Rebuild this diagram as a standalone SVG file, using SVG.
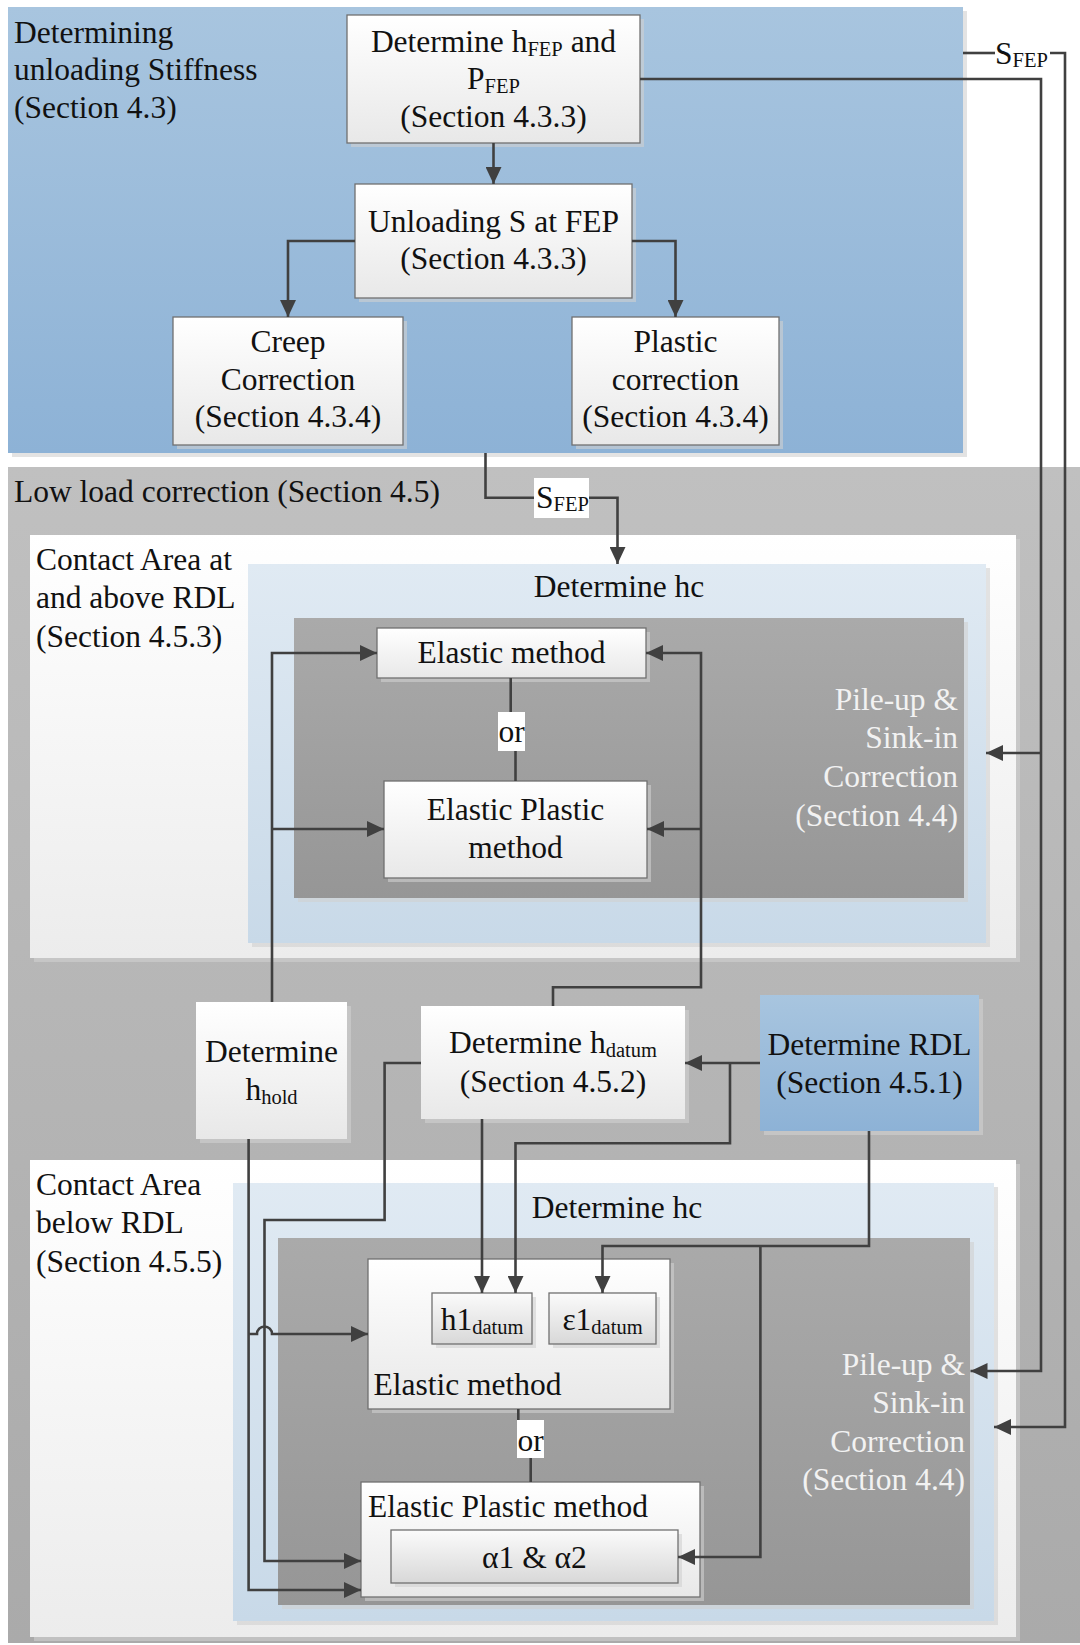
<svg xmlns="http://www.w3.org/2000/svg" width="1080" height="1645" viewBox="0 0 1080 1645">
<style>
.t{font-family:"Liberation Serif","Times New Roman",serif;font-size:31.5px;fill:#111111}
.c{text-anchor:middle}
.r{text-anchor:end}
.w{fill:#f2f2f2}
.sub{font-size:20.5px}
.sh{fill:#d0d0d0;opacity:0.6}
.bx{stroke:#707070;stroke-width:1.3}
.cn path{fill:none;stroke:#404040;stroke-width:2.6}
.ar{marker-end:url(#ah)}
</style>
<defs>
<linearGradient id="gBlue" x1="0" y1="0" x2="0" y2="1"><stop offset="0" stop-color="#a8c5df"/><stop offset="1" stop-color="#8db2d6"/></linearGradient>
<linearGradient id="gGray" x1="0" y1="0" x2="0" y2="1"><stop offset="0" stop-color="#c0c0c0"/><stop offset="1" stop-color="#aaaaaa"/></linearGradient>
<linearGradient id="gWhite" x1="0" y1="0" x2="0" y2="1"><stop offset="0" stop-color="#ffffff"/><stop offset="1" stop-color="#ececec"/></linearGradient>
<linearGradient id="gLB" x1="0" y1="0" x2="0" y2="1"><stop offset="0" stop-color="#e0eaf3"/><stop offset="1" stop-color="#c8d9e8"/></linearGradient>
<linearGradient id="gDark" x1="0" y1="0" x2="0" y2="1"><stop offset="0" stop-color="#aaaaaa"/><stop offset="1" stop-color="#969696"/></linearGradient>
<linearGradient id="gBox" x1="0" y1="0" x2="0" y2="1"><stop offset="0" stop-color="#ffffff"/><stop offset="1" stop-color="#e8e8e8"/></linearGradient>
<linearGradient id="gSmall" x1="0" y1="0" x2="0" y2="1"><stop offset="0" stop-color="#fbfbfb"/><stop offset="1" stop-color="#d8d8d8"/></linearGradient>
<marker id="ah" markerUnits="userSpaceOnUse" markerWidth="17" markerHeight="16" viewBox="0 0 17 16" refX="17" refY="8" orient="auto"><path d="M0,0 L17,8 L0,16 Z" fill="#404040"/></marker>
</defs>

<g id="panel-stiffness">
<rect class="sh" x="12" y="11" width="955" height="446"/>
<rect x="8" y="7" width="955" height="446" fill="url(#gBlue)"/>
<text class="t" x="14"><tspan x="14" y="43">Determining</tspan><tspan x="14" y="80">unloading Stiffness</tspan><tspan x="14" y="118">(Section 4.3)</tspan></text>
</g>

<g id="panel-lowload">
<rect x="8" y="467" width="1072" height="1176" fill="url(#gGray)"/>
<text class="t" x="14" y="502">Low load correction (Section 4.5)</text>
</g>

<g id="panel-above-rdl">
<rect class="sh" x="34" y="539" width="986" height="423"/>
<rect x="30" y="535" width="986" height="423" fill="url(#gWhite)"/>
<text class="t"><tspan x="36" y="570">Contact Area at</tspan><tspan x="36" y="608">and above RDL</tspan><tspan x="36" y="647">(Section 4.5.3)</tspan></text>
</g>

<g id="panel-hc-upper">
<rect class="sh" x="252" y="568" width="738" height="379"/>
<rect x="248" y="564" width="738" height="379" fill="url(#gLB)"/>
<text class="t c" x="619" y="597">Determine hc</text>
</g>

<g id="panel-pileup-upper">
<rect class="sh" x="298" y="622" width="670" height="280"/>
<rect x="294" y="618" width="670" height="280" fill="url(#gDark)"/>
<text class="t r w"><tspan x="958" y="710">Pile-up &amp;</tspan><tspan x="958" y="748">Sink-in</tspan><tspan x="958" y="787">Correction</tspan><tspan x="958" y="826">(Section 4.4)</tspan></text>
</g>

<g id="panel-below-rdl">
<rect class="sh" x="34" y="1164" width="986" height="477"/>
<rect x="30" y="1160" width="986" height="477" fill="url(#gWhite)"/>
<text class="t"><tspan x="36" y="1195">Contact Area</tspan><tspan x="36" y="1233">below RDL</tspan><tspan x="36" y="1272">(Section 4.5.5)</tspan></text>
</g>

<g id="panel-hc-lower">
<rect class="sh" x="237" y="1187" width="761" height="438"/>
<rect x="233" y="1183" width="761" height="438" fill="url(#gLB)"/>
<text class="t c" x="617" y="1218">Determine hc</text>
</g>

<g id="panel-pileup-lower">
<rect class="sh" x="282" y="1242" width="692" height="367"/>
<rect x="278" y="1238" width="692" height="367" fill="url(#gDark)"/>
<text class="t r w"><tspan x="965" y="1375">Pile-up &amp;</tspan><tspan x="965" y="1413">Sink-in</tspan><tspan x="965" y="1452">Correction</tspan><tspan x="965" y="1490">(Section 4.4)</tspan></text>
</g>

<g id="node-hfep">
<rect class="sh" x="351" y="19" width="293" height="128"/>
<rect class="bx" x="347" y="15" width="293" height="128" fill="url(#gBox)"/>
<text class="t c" x="493.5" y="52">Determine h<tspan class="sub" dy="4">FEP</tspan><tspan dy="-4"> and</tspan></text>
<text class="t c" x="493.5" y="89">P<tspan class="sub" dy="4">FEP</tspan></text>
<text class="t c" x="493.5" y="127">(Section 4.3.3)</text>
</g>

<g id="node-unloading">
<rect class="sh" x="359" y="188" width="277" height="114"/>
<rect class="bx" x="355" y="184" width="277" height="114" fill="url(#gBox)"/>
<text class="t c" x="493.5" y="232">Unloading S at FEP</text>
<text class="t c" x="493.5" y="269">(Section 4.3.3)</text>
</g>

<g id="node-creep">
<rect class="sh" x="177" y="321" width="230" height="128"/>
<rect class="bx" x="173" y="317" width="230" height="128" fill="url(#gBox)"/>
<text class="t c" x="288" y="352">Creep</text>
<text class="t c" x="288" y="390">Correction</text>
<text class="t c" x="288" y="427">(Section 4.3.4)</text>
</g>

<g id="node-plastic">
<rect class="sh" x="576" y="321" width="207" height="128"/>
<rect class="bx" x="572" y="317" width="207" height="128" fill="url(#gBox)"/>
<text class="t c" x="675.5" y="352">Plastic</text>
<text class="t c" x="675.5" y="390">correction</text>
<text class="t c" x="675.5" y="427">(Section 4.3.4)</text>
</g>

<g id="node-elastic-upper">
<rect class="sh" x="381" y="632" width="269" height="50"/>
<rect class="bx" x="377" y="628" width="269" height="50" fill="url(#gBox)"/>
<text class="t c" x="511.5" y="663">Elastic method</text>
</g>

<g id="node-ep-upper">
<rect class="sh" x="388" y="785" width="263" height="97"/>
<rect class="bx" x="384" y="781" width="263" height="97" fill="url(#gBox)"/>
<text class="t c" x="515.5" y="820">Elastic Plastic</text>
<text class="t c" x="515.5" y="858">method</text>
</g>

<g id="node-hhold">
<rect class="sh" x="200" y="1006" width="151" height="137"/>
<rect x="196" y="1002" width="151" height="137" fill="url(#gBox)"/>
<text class="t c" x="271.5" y="1062">Determine</text>
<text class="t c" x="271.5" y="1100">h<tspan class="sub" dy="4">hold</tspan></text>
</g>

<g id="node-hdatum">
<rect class="sh" x="425" y="1010" width="264" height="113"/>
<rect x="421" y="1006" width="264" height="113" fill="url(#gBox)"/>
<text class="t c" x="553" y="1053">Determine h<tspan class="sub" dy="4">datum</tspan></text>
<text class="t c" x="553" y="1092">(Section 4.5.2)</text>
</g>

<g id="node-rdl">
<rect class="sh" x="764" y="999" width="219" height="136"/>
<rect x="760" y="995" width="219" height="136" fill="url(#gBlue)"/>
<text class="t c" x="869.5" y="1055">Determine RDL</text>
<text class="t c" x="869.5" y="1093">(Section 4.5.1)</text>
</g>

<g id="node-elastic-lower">
<rect class="sh" x="372" y="1263" width="302" height="150"/>
<rect class="bx" x="368" y="1259" width="302" height="150" fill="url(#gBox)"/>
<text class="t" x="373.5" y="1395">Elastic method</text>
</g>

<g id="node-h1datum">
<rect class="sh" x="436" y="1297" width="100" height="51"/>
<rect class="bx" x="432" y="1293" width="100" height="51" fill="url(#gSmall)"/>
<text class="t c" x="482" y="1330">h1<tspan class="sub" dy="4">datum</tspan></text>
</g>

<g id="node-e1datum">
<rect class="sh" x="553" y="1297" width="107" height="51"/>
<rect class="bx" x="549" y="1293" width="107" height="51" fill="url(#gSmall)"/>
<text class="t c" x="602.5" y="1330">ε1<tspan class="sub" dy="4">datum</tspan></text>
</g>

<g id="node-ep-lower">
<rect class="sh" x="365" y="1486" width="339" height="115"/>
<rect class="bx" x="361" y="1482" width="339" height="115" fill="url(#gBox)"/>
<text class="t" x="368" y="1517">Elastic Plastic method</text>
</g>

<g id="node-alpha">
<rect class="sh" x="395" y="1534" width="287" height="53"/>
<rect class="bx" x="391" y="1530" width="287" height="53" fill="url(#gSmall)"/>
<text class="t c" x="534.5" y="1568">α1 &amp; α2</text>
</g>

<g id="connectors" class="cn">
<path class="ar" d="M493.5,143 V184"/>
<path class="ar" d="M355,241 H288 V317"/>
<path class="ar" d="M632,241 H675.5 V317"/>
<path d="M963,53 H995"/>
<path class="ar" d="M1050,53 H1065 V1427 H994"/>
<path class="ar" d="M640,79 H1041 V1371 H970.5"/>
<path class="ar" d="M1041,753 H986"/>
<path d="M485.5,453 V497.7 H534"/>
<path class="ar" d="M589,497.7 H617.5 V564"/>
<path class="ar" d="M272,1002 V653 H377"/>
<path class="ar" d="M272,829 H384"/>
<path class="ar" d="M553,1006 V987.3 H701 V653 H646"/>
<path class="ar" d="M701,829 H647"/>
<path d="M510.7,678 V712"/>
<path d="M515.5,751 V781"/>
<path class="ar" d="M248.6,1139 V1590 H361"/>
<path class="ar" d="M248.6,1334 H257 A7.5,7.5 0 0 1 272,1334 H368"/>
<path class="ar" d="M421,1063 H384.6 V1220 H264.5 V1561 H361"/>
<path class="ar" d="M760,1063 H685"/>
<path class="ar" d="M730,1063 V1143.3 H515.5 V1293"/>
<path class="ar" d="M482,1119 V1293"/>
<path class="ar" d="M869,1131 V1246 H602.5 V1293"/>
<path class="ar" d="M760.4,1246 V1557 H678"/>
<path d="M518.3,1409 V1420"/>
<path d="M530.7,1458 V1482"/>
</g>

<g id="label-sfep-top">
<text class="t" x="995" y="63.5">S<tspan class="sub" dy="3">FEP</tspan></text>
</g>
<g id="label-sfep-mid">
<rect x="534" y="478" width="55" height="40" fill="#ffffff"/>
<text class="t" x="536" y="508">S<tspan class="sub" dy="3">FEP</tspan></text>
</g>
<g id="label-or-upper">
<rect x="498" y="712" width="27" height="39" fill="#ffffff"/>
<text class="t c" x="511.5" y="742">or</text>
</g>
<g id="label-or-lower">
<rect x="517" y="1420" width="27" height="38" fill="#ffffff"/>
<text class="t c" x="530.5" y="1451">or</text>
</g>
</svg>
